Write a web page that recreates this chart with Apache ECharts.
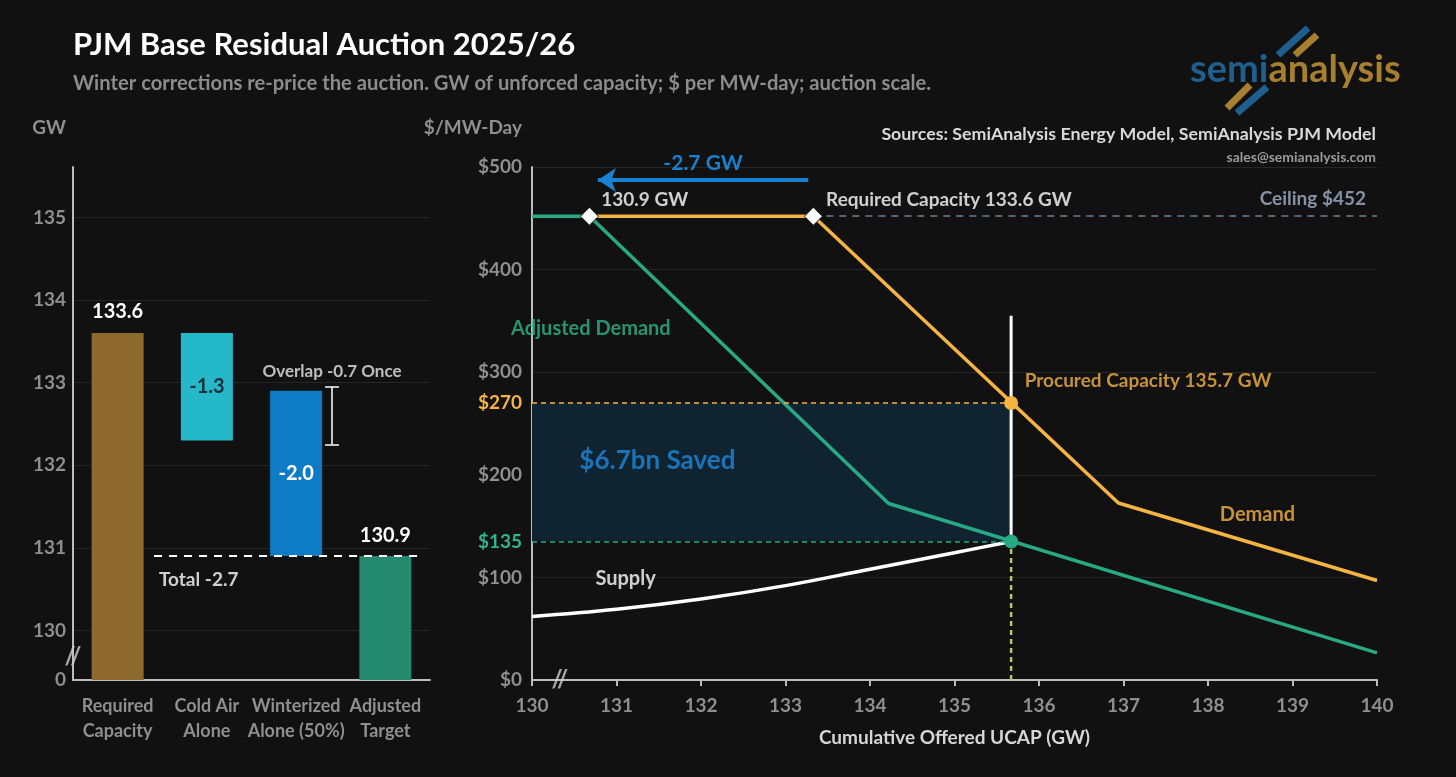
<!DOCTYPE html>
<html>
<head>
  <meta charset="UTF-8">
  <title>PJM Base Residual Auction 2025/26</title>
  <script src="https://cdn.jsdelivr.net/npm/echarts@6/dist/echarts.min.js"></script>
  <style>
    html, body { margin: 0; padding: 0; background: #111111; }
    #main { width: 1456px; height: 777px; }
  </style>
</head>
<body>
<div id="main"></div>
<script type="text/javascript">
  // left panel: waterfall of the capacity target (GW)
  var gwCategories = ['Required\nCapacity', 'Cold Air\nAlone', 'Winterized\nAlone (50%)', 'Adjusted\nTarget'];
  var gwBase = [0, 132.3, 130.9, 0];
  var gwChange = [133.6, 1.3, 2.0, 130.9];
  var gwLabels = ['133.6', '-1.3', '-2.0', '130.9'];
  var gwTicks = [130, 131, 132, 133, 134, 135];
  var gwTotal = 130.9;
  var overlapRange = [132.95, 132.25];

  // right panel: supply / demand curves ($/MW-day vs GW)
  var supplyGW = [130, 131, 132, 133, 134, 135, 135.67];
  var supplyPrice = [62, 69, 79, 92, 108, 124, 135];
  var supplyCapPrice = [135, 355];
  var demandGW = [130.68, 133.33, 136.94, 140];
  var demandPrice = [452, 452, 172.5, 97];
  var adjDemandGW = [130, 130.68, 134.22, 140];
  var adjDemandPrice = [452, 452, 172, 26.5];
  var requiredPoints = [130.68, 133.33];
  var ceilingPrice = 452;
  var clearingGW = 135.67;
  var clearingPrice = 270;
  var adjustedPrice = 135;
  var shiftArrow = [130.78, 133.27, 487.3];

  var FONT = 'Lato, "Noto Sans", sans-serif';
  var GREY = '#8f8f8f';
  var AXIS = '#bdbdbd';
  var GRID = '#262626';
  var ORANGE = '#f5b342';
  var GREEN = '#27a984';
  var BLUE = '#1a80d0';
  var barColors = ['#8e6a2e', '#25b8c9', '#0e7bc6', '#248a6f'];

  function note(x, y, text, color, size, align, offset) {
    return {
      value: [x, y],
      label: {
        show: true, position: 'inside', formatter: text, color: color,
        fontSize: size, fontWeight: 'bold', fontFamily: FONT,
        align: align || 'center', verticalAlign: 'middle', offset: offset || [0, 0]
      }
    };
  }
  function zip(xs, ys) {
    return xs.map(function (x, i) { return [x, ys[i]]; });
  }

  var chart = echarts.init(document.getElementById('main'));

  chart.setOption({
    backgroundColor: '#111111',
    animation: false,
    textStyle: { fontFamily: FONT },
    grid: [
      { left: 73, top: 167, width: 357, height: 513 },
      { left: 532, top: 167, width: 845, height: 513 }
    ],
    xAxis: [
      {
        type: 'category', gridIndex: 0, data: gwCategories,
        axisLine: { onZero: false, lineStyle: { color: AXIS, width: 2 } },
        axisTick: { show: false },
        axisLabel: { color: GREY, fontFamily: FONT, fontWeight: 'bold', fontSize: 18, lineHeight: 25, margin: 14, interval: 0 }
      },
      { type: 'value', gridIndex: 0, min: -0.5, max: 3.5, show: false },
      {
        type: 'value', gridIndex: 1, min: 130, max: 140, interval: 1,
        axisLine: { onZero: false, lineStyle: { color: AXIS, width: 2 } },
        axisTick: { show: true, length: 6, lineStyle: { color: AXIS, width: 2 } },
        splitLine: { show: false },
        axisLabel: { color: GREY, fontFamily: FONT, fontWeight: 'bold', fontSize: 19, margin: 16 },
        name: 'Cumulative Offered UCAP (GW)', nameLocation: 'middle', nameGap: 48,
        nameTextStyle: { color: '#d6d6d6', fontFamily: FONT, fontWeight: 'bold', fontSize: 19 }
      }
    ],
    yAxis: [
      {
        type: 'value', gridIndex: 0, min: 129.4, max: 135.61,
        axisLine: { show: true, onZero: false, lineStyle: { color: AXIS, width: 2 } },
        axisTick: { show: false },
        splitLine: { show: false },
        axisLabel: {
          color: GREY, fontFamily: FONT, fontWeight: 'bold', fontSize: 19, margin: 7,
          showMinLabel: true,
          formatter: function (v) {
            if (Math.abs(v - 129.4) < 0.01) return '0';
            return gwTicks.indexOf(Math.round(v * 1000) / 1000) >= 0 ? String(v) : '';
          }
        }
      },
      {
        type: 'value', gridIndex: 1, min: 0, max: 500, interval: 100,
        axisLine: { show: true, onZero: false, lineStyle: { color: AXIS, width: 2 } },
        axisTick: { show: false },
        splitLine: { show: true, lineStyle: { color: GRID, width: 1 } },
        axisLabel: {
          color: GREY, fontFamily: FONT, fontWeight: 'bold', fontSize: 19, margin: 10,
          formatter: function (v) { return '$' + v; }
        }
      }
    ],
    graphic: [
      { type: 'text', x: 73, y: 45, style: { text: 'PJM Base Residual Auction 2025/26', fill: '#ffffff', font: 'bold 31px ' + FONT, verticalAlign: 'middle' } },
      { type: 'text', x: 73, y: 83, style: { text: 'Winter corrections re-price the auction. GW of unforced capacity; $ per MW-day; auction scale.', fill: '#8c8c8c', font: 'bold 20.2px ' + FONT, verticalAlign: 'middle' } },
      { type: 'text', x: 66, y: 128, style: { text: 'GW', fill: GREY, font: 'bold 19px ' + FONT, align: 'right', verticalAlign: 'middle' } },
      { type: 'text', x: 522, y: 128, style: { text: '$/MW-Day', fill: GREY, font: 'bold 19px ' + FONT, align: 'right', verticalAlign: 'middle' } },
      { type: 'text', x: 1376, y: 134, style: { text: 'Sources: SemiAnalysis Energy Model, SemiAnalysis PJM Model', fill: '#d9d9d9', font: 'bold 17.8px ' + FONT, align: 'right', verticalAlign: 'middle' } },
      { type: 'text', x: 1376, y: 157, style: { text: 'sales@semianalysis.com', fill: '#9a9a9a', font: 'bold 14px ' + FONT, align: 'right', verticalAlign: 'middle' } },
      // logo
      { type: 'line', shape: { x1: 1278, y1: 55, x2: 1308, y2: 28 }, style: { stroke: '#1f5f8f', lineWidth: 7 } },
      { type: 'line', shape: { x1: 1295, y1: 55, x2: 1317, y2: 35 }, style: { stroke: '#a7802f', lineWidth: 7 } },
      { type: 'line', shape: { x1: 1227, y1: 108, x2: 1250, y2: 85 }, style: { stroke: '#a7802f', lineWidth: 7 } },
      { type: 'line', shape: { x1: 1237, y1: 113, x2: 1267, y2: 87 }, style: { stroke: '#1f5f8f', lineWidth: 7 } },
      {
        type: 'text', x: 1190, y: 70,
        style: {
          text: '{a|semi}{b|analysis}', verticalAlign: 'middle',
          rich: {
            a: { fill: '#1f5f8f', font: 'bold 38px ' + FONT },
            b: { fill: '#a7802f', font: 'bold 38px ' + FONT }
          }
        }
      }
    ],
    series: [
      // grid lines behind the waterfall
      {
        type: 'lines', coordinateSystem: 'cartesian2d', xAxisIndex: 1, yAxisIndex: 0, z: 0, silent: true,
        lineStyle: { color: GRID, width: 1, opacity: 1 },
        data: gwTicks.map(function (v) { return { coords: [[-0.5, v], [3.5, v]] }; })
      },
      // waterfall invisible base
      {
        type: 'bar', xAxisIndex: 0, yAxisIndex: 0, stack: 'wf', barWidth: 52, z: 2, silent: true,
        itemStyle: { color: 'transparent' },
        data: gwBase
      },
      {
        type: 'bar', xAxisIndex: 0, yAxisIndex: 0, stack: 'wf', barWidth: 52, z: 2,
        data: gwChange.map(function (v, i) {
          var inside = (i === 1 || i === 2);
          return {
            value: v,
            itemStyle: { color: barColors[i] },
            label: {
              show: true, formatter: gwLabels[i],
              position: inside ? 'inside' : 'top', distance: 11,
              color: i === 1 ? '#15303a' : '#ffffff',
              fontFamily: FONT, fontWeight: 'bold', fontSize: 20
            }
          };
        })
      },
      // total dashed line and overlap bracket
      {
        type: 'line', xAxisIndex: 1, yAxisIndex: 0, z: 3, symbol: 'none', silent: true,
        lineStyle: { color: '#ffffff', width: 2, type: [8, 7] },
        data: [[0.408, gwTotal], [3.396, gwTotal]],
        markLine: {
          silent: true, symbol: 'none', label: { show: false },
          lineStyle: { color: '#ffffff', width: 1.5, type: 'solid' },
          data: [
            [{ coord: [2.402, overlapRange[0]] }, { coord: [2.402, overlapRange[1]] }],
            [{ coord: [2.324, overlapRange[0]] }, { coord: [2.48, overlapRange[0]] }],
            [{ coord: [2.324, overlapRange[1]] }, { coord: [2.48, overlapRange[1]] }]
          ]
        }
      },
      {
        type: 'scatter', xAxisIndex: 1, yAxisIndex: 0, z: 10, symbolSize: 1, silent: true,
        itemStyle: { color: 'transparent' },
        data: [
          note(2.402, 133.14, 'Overlap -0.7 Once', '#e8e8e8', 17),
          note(0.463, 130.61, 'Total -2.7', '#ffffff', 19, 'left'),
          note(-0.5, 129.67, '//', '#cfcfcf', 24)
        ]
      },

      // right panel: saved area, price guides, clearing drop line
      {
        type: 'line', xAxisIndex: 2, yAxisIndex: 1, z: 1, symbol: 'none', silent: true,
        lineStyle: { color: '#b4c86a', width: 2.5, type: [5, 4] },
        data: [[clearingGW, 0], [clearingGW, adjustedPrice]],
        markArea: {
          silent: true,
          itemStyle: { color: '#0f2331' },
          data: [[{ coord: [130, adjustedPrice] }, { coord: [clearingGW, clearingPrice] }]]
        },
        markLine: {
          silent: true, symbol: 'none',
          data: [
            [{ coord: [130, clearingPrice], lineStyle: { color: ORANGE, width: 1.5, type: [5, 4] },
               label: { show: true, position: 'start', distance: 10, formatter: '$270', color: ORANGE, fontFamily: FONT, fontWeight: 'bold', fontSize: 19 } },
             { coord: [clearingGW, clearingPrice] }],
            [{ coord: [130, adjustedPrice], lineStyle: { color: GREEN, width: 1.5, type: [5, 4] },
               label: { show: true, position: 'start', distance: 10, formatter: '$135', color: '#2fb58d', fontFamily: FONT, fontWeight: 'bold', fontSize: 19 } },
             { coord: [clearingGW, adjustedPrice] }],
            [{ coord: [requiredPoints[1], ceilingPrice], lineStyle: { color: '#6f7f96', width: 1.5, type: [7, 6] }, label: { show: false } },
             { coord: [140, ceilingPrice] }]
          ]
        }
      },
      {
        name: 'Supply', type: 'line', xAxisIndex: 2, yAxisIndex: 1, z: 3, symbol: 'none', smooth: 0.4,
        lineStyle: { color: '#ffffff', width: 3.5 },
        data: zip(supplyGW, supplyPrice)
      },
      {
        type: 'line', xAxisIndex: 2, yAxisIndex: 1, z: 3, symbol: 'none',
        lineStyle: { color: '#ffffff', width: 3 },
        data: [[clearingGW, supplyCapPrice[0]], [clearingGW, supplyCapPrice[1]]]
      },
      {
        name: 'Demand', type: 'line', xAxisIndex: 2, yAxisIndex: 1, z: 3, symbol: 'none',
        lineStyle: { color: ORANGE, width: 3.5 },
        data: zip(demandGW, demandPrice),
        markLine: {
          silent: true, symbol: ['arrow', 'none'], symbolSize: 18,
          lineStyle: { color: BLUE, width: 4, type: 'solid' },
          label: {
            show: true, position: 'insideMiddleTop', distance: 6, formatter: '-2.7 GW',
            color: BLUE, fontFamily: FONT, fontWeight: 'bold', fontSize: 21
          },
          data: [[{ coord: [shiftArrow[0], shiftArrow[2]] }, { coord: [shiftArrow[1], shiftArrow[2]] }]]
        }
      },
      {
        name: 'Adjusted Demand', type: 'line', xAxisIndex: 2, yAxisIndex: 1, z: 3, symbol: 'none',
        lineStyle: { color: GREEN, width: 3.5 },
        data: zip(adjDemandGW, adjDemandPrice)
      },
      {
        type: 'scatter', xAxisIndex: 2, yAxisIndex: 1, z: 5, symbol: 'diamond', symbolSize: 18,
        itemStyle: { color: '#ffffff', borderColor: '#111111', borderWidth: 1, opacity: 1 },
        data: requiredPoints.map(function (x) { return [x, ceilingPrice]; })
      },
      {
        type: 'scatter', xAxisIndex: 2, yAxisIndex: 1, z: 5, symbolSize: 14,
        itemStyle: { opacity: 1 },
        data: [
          { value: [clearingGW, clearingPrice], itemStyle: { color: ORANGE } },
          { value: [clearingGW, adjustedPrice], itemStyle: { color: GREEN } }
        ]
      },
      {
        type: 'scatter', xAxisIndex: 2, yAxisIndex: 1, z: 10, symbolSize: 1, silent: true,
        itemStyle: { color: 'transparent' },
        data: [
          note(130.82, 467.8, '130.9 GW', '#ffffff', 19, 'left'),
          note(133.48, 467.8, 'Required Capacity 133.6 GW', '#ffffff', 19, 'left'),
          note(139.87, 468.7, 'Ceiling $452', '#a3b3cc', 19, 'right'),
          note(130, 342.8, 'Adjusted Demand', '#2fb58d', 20, 'left', [-21, 0]),
          note(135.83, 292, 'Procured Capacity 135.7 GW', ORANGE, 19, 'left'),
          note(130.56, 213.9, '$6.7bn Saved', '#1e88dc', 26, 'left'),
          note(138.14, 161, 'Demand', ORANGE, 20, 'left'),
          note(130.75, 98.6, 'Supply', '#ffffff', 20, 'left'),
          note(130.33, 0, '//', '#cfcfcf', 24)
        ]
      }
    ]
  });
</script>
</body>
</html>
